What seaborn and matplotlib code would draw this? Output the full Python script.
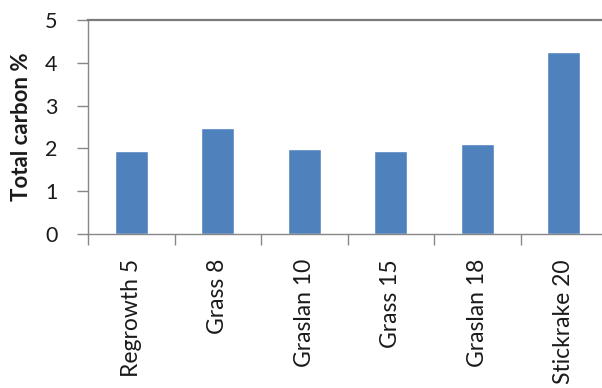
import numpy as np
import pandas as pd
import matplotlib
matplotlib.use('Agg')
import matplotlib.pyplot as plt
import seaborn as sns

sns.set_style('white')
plt.rcParams['font.family'] = ['Lato', 'DejaVu Sans']

# data
sites = ['Regrowth 5', 'Grass 8', 'Graslan 10', 'Grass 15', 'Graslan 18', 'Stickrake 20']
carbon = [1.94, 2.47, 1.99, 1.94, 2.10, 4.26]
yticks = [0, 1, 2, 3, 4, 5]

df = pd.DataFrame({'site': sites, 'carbon': carbon})

fig = plt.figure(figsize=(6.02, 3.88), dpi=100)
ax = fig.add_axes([88 / 602, 1 - 234 / 388, 519 / 602, 214 / 388])

sns.barplot(data=df, x='site', y='carbon', color='#4F81BD', saturation=1,
            width=0.385, ax=ax)

ax.set_xlim(-0.5, len(sites) - 0.5)
ax.set_ylim(0, 5)
ax.set_yticks(yticks)

# category boundaries get the tick marks, labels sit at the centres
ax.set_xticks(np.arange(-0.5, len(sites)), minor=True)
ax.tick_params(axis='x', which='major', length=0, pad=18, labelsize=16.5,
               labelrotation=90, colors='#1a1a1a')
ax.tick_params(axis='x', which='minor', length=8, width=1, color='#878787',
               direction='out', bottom=True)
ax.tick_params(axis='y', length=8, width=1, color='#878787', direction='out',
               left=True, pad=14, labelsize=15.5, labelcolor='#1a1a1a')

ax.set_xlabel('')
ax.set_ylabel('Total carbon %', fontsize=16, fontweight='bold',
              color='#1a1a1a', labelpad=9)

for side in ['left', 'bottom']:
    ax.spines[side].set_color('#878787')
    ax.spines[side].set_linewidth(1)
ax.spines['top'].set_visible(True)
ax.spines['top'].set_color('#7a7a7a')
ax.spines['top'].set_linewidth(1.6)
ax.spines['right'].set_visible(False)

plt.savefig('out.png', dpi=100)
